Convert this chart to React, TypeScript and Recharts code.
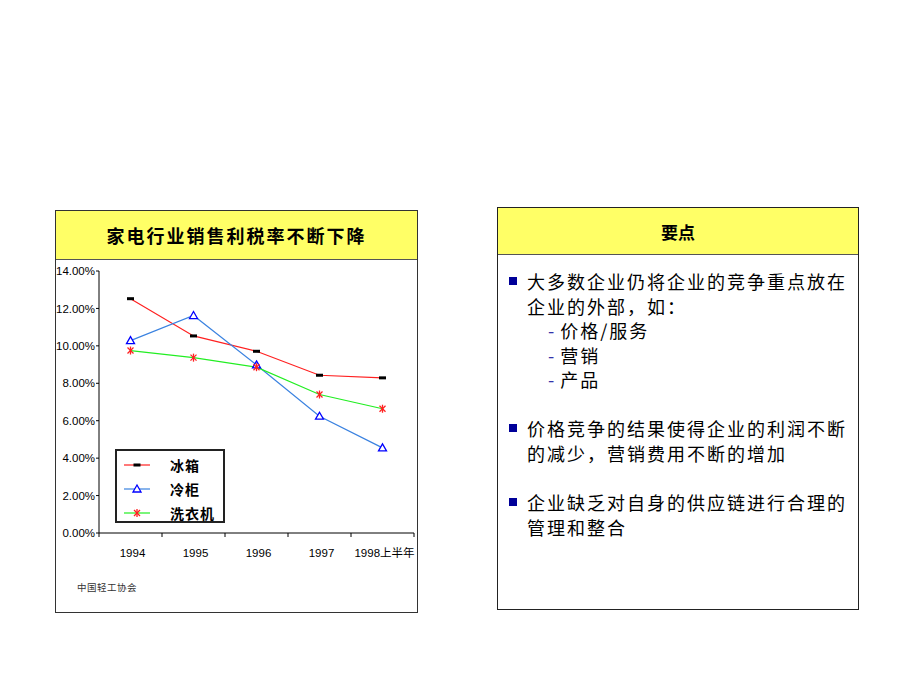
import { LineChart, Line, XAxis, YAxis } from "recharts";

// 家电行业销售利税率 (%)
const years = ["1994", "1995", "1996", "1997", "1998上半年"];
const fridge = [12.52, 10.53, 9.71, 8.43, 8.29]; // 冰箱
const freezer = [10.28, 11.62, 8.98, 6.24, 4.55]; // 冷柜
const washer = [9.75, 9.37, 8.86, 7.4, 6.64]; // 洗衣机
const yTicks = [0, 2, 4, 6, 8, 10, 12, 14];

const seriesNames = ["冰箱", "冷柜", "洗衣机"];

const bullets = [
  { lines: ["大多数企业仍将企业的竞争重点放在", "企业的外部，如："], subs: ["价格/服务", "营销", "产品"] },
  { lines: ["价格竞争的结果使得企业的利润不断", "的减少，营销费用不断的增加"], subs: [] },
  { lines: ["企业缺乏对自身的供应链进行合理的", "管理和整合"], subs: [] },
];

const data = years.map((year, i) => ({
  year,
  fridge: fridge[i],
  freezer: freezer[i],
  washer: washer[i],
}));

const CJK = '"Noto Sans CJK SC", sans-serif';
const LATIN = '"Liberation Sans", Arial, "Noto Sans CJK SC", sans-serif';

const RED = "#ff2020";
const BLUE_LINE = "#3a82e0";
const GREEN = "#22ee22";

function Dash({ cx, cy }: { cx: number; cy: number }) {
  return <rect x={cx - 3.5} y={cy - 1.5} width={7} height={3} fill="#000" />;
}

function Triangle({ cx, cy }: { cx: number; cy: number }) {
  return (
    <path
      d={`M${cx},${cy - 4} L${cx + 4},${cy + 3} L${cx - 4},${cy + 3} Z`}
      fill="#fff"
      stroke="#0000ff"
      strokeWidth={1.3}
    />
  );
}

function Star({ cx, cy }: { cx: number; cy: number }) {
  return (
    <g stroke={RED} strokeWidth={1.3}>
      <line x1={cx - 3} y1={cy - 3} x2={cx + 3} y2={cy + 3} />
      <line x1={cx - 3} y1={cy + 3} x2={cx + 3} y2={cy - 3} />
      <line x1={cx} y1={cy - 4} x2={cx} y2={cy + 4} />
    </g>
  );
}

const markers = [Dash, Triangle, Star];
const lineColors = [RED, BLUE_LINE, GREEN];

// x ticks sit on category boundaries, labels in the middle
function YearTick(props: any) {
  const { x, y, payload, index, visibleTicksCount } = props;
  const half = payload.offset ?? 0;
  return (
    <g>
      <line x1={x - half} x2={x - half} y1={y} y2={y + 4} stroke="#000" />
      {index === visibleTicksCount - 1 && (
        <line x1={x + half} x2={x + half} y1={y} y2={y + 4} stroke="#000" />
      )}
      <text x={x + 2} y={y + 24} textAnchor="middle" fontSize={11.5} fontFamily={LATIN} fill="#000">
        {payload.value}
      </text>
    </g>
  );
}

function Legend() {
  return (
    <div
      style={{
        position: "absolute",
        left: 115,
        top: 449,
        width: 106,
        height: 70,
        border: "2px solid #222",
        background: "#fff",
      }}
    >
      {seriesNames.map((name, i) => {
        const M = markers[i];
        return (
          <div key={name} style={{ position: "absolute", left: 5, top: 4 + i * 24, height: 20, width: 100 }}>
            <svg width={30} height={20} style={{ position: "absolute", left: 0, top: 0 }}>
              <line x1={2} x2={28} y1={10} y2={10} stroke={lineColors[i]} strokeWidth={1.2} />
              <M cx={15} cy={10} />
            </svg>
            <span
              style={{
                position: "absolute",
                left: 48,
                top: 0,
                lineHeight: "20px",
                fontSize: 14,
                fontWeight: 700,
                letterSpacing: 1,
                fontFamily: CJK,
                color: "#000",
                whiteSpace: "nowrap",
              }}
            >
              {name}
            </span>
          </div>
        );
      })}
    </div>
  );
}

export default function App() {
  const bulletTops = [14, 161, 235];
  return (
    <div
      style={{
        position: "absolute",
        left: 0,
        top: 0,
        width: 920,
        height: 690,
        background: "#fff",
        overflow: "hidden",
      }}
    >
      {/* left panel */}
      <div
        style={{
          position: "absolute",
          left: 55,
          top: 210,
          width: 361,
          height: 401,
          border: "1px solid #333",
          background: "#fff",
        }}
      >
        <div
          style={{
            height: 48,
            background: "#ffff66",
            borderBottom: "1px solid #555",
            display: "flex",
            alignItems: "center",
            justifyContent: "center",
            fontFamily: CJK,
            fontWeight: 700,
            fontSize: 18,
            letterSpacing: 2,
            color: "#000",
          }}
        >
          家电行业销售利税率不断下降
        </div>
      </div>

      <div style={{ position: "absolute", left: 55, top: 258 }}>
        <LineChart width={363} height={305} data={data} margin={{ top: 13, right: 4, left: 0, bottom: 0 }}>
          <XAxis
            dataKey="year"
            scale="band"
            height={30}
            axisLine={{ stroke: "#000" }}
            tickLine={false}
            tickSize={0}
            tickMargin={0}
            interval={0}
            tick={<YearTick />}
          />
          <YAxis
            domain={[0, 14]}
            ticks={yTicks}
            width={44}
            axisLine={{ stroke: "#000" }}
            tickLine={{ stroke: "#000" }}
            tickSize={3}
            tickMargin={1}
            tickFormatter={(v) => `${v.toFixed(2)}%`}
            tick={{ fontSize: 11.5, fill: "#000", fontFamily: LATIN }}
          />
          <Line
            dataKey="fridge"
            stroke={RED}
            strokeWidth={1.2}
            isAnimationActive={false}
            dot={(p: any) => <Dash key={`f-${p.index}`} cx={p.cx} cy={p.cy} />}
            activeDot={false}
          />
          <Line
            dataKey="freezer"
            stroke={BLUE_LINE}
            strokeWidth={1.2}
            isAnimationActive={false}
            dot={(p: any) => <Triangle key={`z-${p.index}`} cx={p.cx} cy={p.cy} />}
            activeDot={false}
          />
          <Line
            dataKey="washer"
            stroke={GREEN}
            strokeWidth={1.2}
            isAnimationActive={false}
            dot={(p: any) => <Star key={`w-${p.index}`} cx={p.cx} cy={p.cy} />}
            activeDot={false}
          />
        </LineChart>
      </div>

      <Legend />

      <div
        style={{
          position: "absolute",
          left: 77,
          top: 580,
          fontSize: 9.5,
          letterSpacing: 0.5,
          fontFamily: CJK,
          color: "#333",
        }}
      >
        中国轻工协会
      </div>

      {/* right panel */}
      <div
        style={{
          position: "absolute",
          left: 497,
          top: 207,
          width: 360,
          height: 401,
          border: "1px solid #222",
          background: "#fff",
        }}
      >
        <div
          style={{
            height: 46,
            background: "#ffff66",
            borderBottom: "1px solid #555",
            display: "flex",
            alignItems: "center",
            justifyContent: "center",
            fontFamily: CJK,
            fontWeight: 700,
            fontSize: 17,
            color: "#000",
          }}
        >
          要点
        </div>
        <div style={{ position: "relative", fontFamily: CJK, fontSize: 18, letterSpacing: 2, color: "#000" }}>
          {bullets.map((b, bi) => (
            <div key={bi} style={{ position: "absolute", left: 0, top: bulletTops[bi] }}>
              <div
                style={{
                  position: "absolute",
                  left: 11,
                  top: 8,
                  width: 8,
                  height: 8,
                  background: "#000099",
                }}
              />
              {b.lines.map((t, li) => (
                <div
                  key={li}
                  style={{
                    position: "absolute",
                    left: 29,
                    top: li * 24.5,
                    lineHeight: "24px",
                    whiteSpace: "nowrap",
                  }}
                >
                  {t}
                </div>
              ))}
              {b.subs.map((t, si) => (
                <div
                  key={t}
                  style={{
                    position: "absolute",
                    left: 50,
                    top: (b.lines.length + si) * 24.5,
                    lineHeight: "24px",
                    whiteSpace: "nowrap",
                  }}
                >
                  <span style={{ color: "#3333aa", marginRight: 4 }}>-</span>
                  {t}
                </div>
              ))}
            </div>
          ))}
        </div>
      </div>
    </div>
  );
}
